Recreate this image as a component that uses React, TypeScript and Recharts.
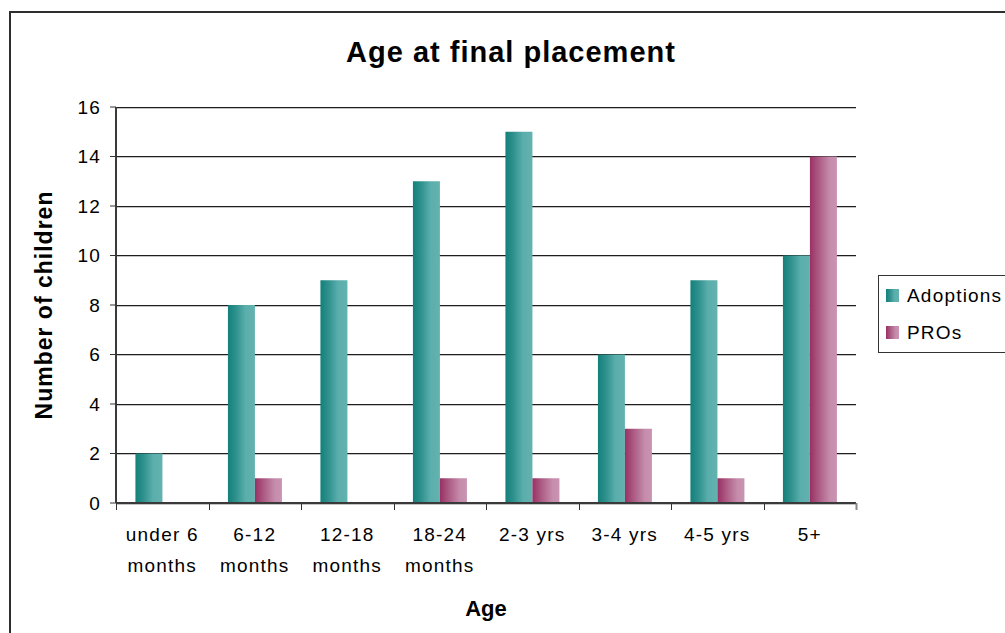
import { BarChart, Bar, XAxis, YAxis, CartesianGrid, Legend } from 'recharts';

// Age bands along the x axis (a "\n" splits a label over two lines)
const ageGroups = [
  'under 6\nmonths',
  '6-12\nmonths',
  '12-18\nmonths',
  '18-24\nmonths',
  '2-3 yrs',
  '3-4 yrs',
  '4-5 yrs',
  '5+',
];
const adoptions = [2, 8, 9, 13, 15, 6, 9, 10];
const pros = [0, 1, 0, 1, 1, 3, 1, 14];
const countTicks = [0, 2, 4, 6, 8, 10, 12, 14, 16];

const data = ageGroups.map((age, i) => ({ age, adoptions: adoptions[i], pros: pros[i] }));

const FONT = "'Liberation Sans', Arial, sans-serif";

// dark gridline with a faint shadow under it
// eslint-disable-next-line @typescript-eslint/no-explicit-any
const gridLine = (p: any) => {
  const y = Math.floor(p.y1) + 0.5;
  return (
    <g key={p.key}>
      <line x1={p.x1} x2={p.x2} y1={y + 1} y2={y + 1} stroke="#c4c4c4" />
      <line x1={p.x1} x2={p.x2} y1={y} y2={y} stroke="#1e1e1e" />
    </g>
  );
};

// category label plus Excel-style tick marks on the band edges
// eslint-disable-next-line @typescript-eslint/no-explicit-any
const AgeTick = (props: any) => {
  const { x, y, payload, index } = props;
  const half = payload?.offset ?? 0;
  const lines = String(payload.value).split('\n');
  const left = Math.round(x - half) + 0.5;
  const right = Math.round(x + half) + 0.5;
  return (
    <g>
      <line x1={left} x2={left} y1={y} y2={y + 7} stroke="#333" />
      {index === ageGroups.length - 1 && (
        <line x1={right} x2={right} y1={y} y2={y + 7} stroke="#888" strokeWidth={2} />
      )}
      <text
        x={x}
        y={y + 38}
        textAnchor="middle"
        fill="#000"
        style={{ fontFamily: FONT, fontSize: 19, letterSpacing: 1.2 }}
      >
        {lines.map((l, i) => (
          <tspan key={i} x={x} dy={i === 0 ? 0 : 31}>
            {l}
          </tspan>
        ))}
      </text>
    </g>
  );
};

// eslint-disable-next-line @typescript-eslint/no-explicit-any
const renderLegend = (props: any) => (
  <div
    style={{
      border: '1px solid #333',
      background: '#fff',
      padding: '1px 0 1px 7px',
      width: 150,
      boxSizing: 'border-box',
      fontFamily: FONT,
    }}
  >
    {/* eslint-disable-next-line @typescript-eslint/no-explicit-any */}
    {(props.payload || []).map((entry: any) => (
      <div key={entry.value} style={{ display: 'flex', alignItems: 'center', height: 37 }}>
        <svg width={13} height={13} style={{ marginRight: 8, display: 'block' }}>
          <rect width={13} height={13} fill={entry.color} />
        </svg>
        <span style={{ fontSize: 19, letterSpacing: 1.2, color: '#000' }}>{entry.value}</span>
      </div>
    ))}
  </div>
);

export default function App() {
  return (
    <div
      style={{
        position: 'fixed',
        left: 0,
        top: 0,
        width: 1005,
        height: 633,
        overflow: 'hidden',
        background: '#fff',
        fontFamily: FONT,
      }}
    >
      <div
        style={{
          position: 'absolute',
          left: 9,
          top: 11,
          width: 1100,
          height: 700,
          border: '2px solid #2e2e2e',
        }}
      />
      <div
        style={{
          position: 'absolute',
          left: 10,
          top: 38,
          width: 1002,
          textAlign: 'center',
          fontSize: 29,
          lineHeight: '29px',
          fontWeight: 'bold',
          letterSpacing: 1,
          color: '#000',
        }}
      >
        Age at final placement
      </div>
      <div style={{ position: 'absolute', left: 0, top: 0 }}>
        <BarChart
          width={1005}
          height={633}
          data={data}
          margin={{ top: 107, right: 149, bottom: 10, left: 16 }}
          barCategoryGap="21%"
          barGap={0}
        >
          <defs>
            <linearGradient id="adoptFill" x1="0" y1="0" x2="1" y2="0">
              <stop offset="0%" stopColor="#13807b" />
              <stop offset="30%" stopColor="#2f918d" />
              <stop offset="65%" stopColor="#5aaeab" />
              <stop offset="100%" stopColor="#63b2b0" />
            </linearGradient>
            <linearGradient id="proFill" x1="0" y1="0" x2="1" y2="0">
              <stop offset="0%" stopColor="#993064" />
              <stop offset="35%" stopColor="#ad5e86" />
              <stop offset="75%" stopColor="#c68dac" />
              <stop offset="100%" stopColor="#c993b1" />
            </linearGradient>
          </defs>
          <CartesianGrid horizontal={gridLine} vertical={false} />
          <XAxis
            dataKey="age"
            interval={0}
            height={120}
            tickLine={false}
            tickSize={0}
            tickMargin={0}
            tick={<AgeTick />}
            axisLine={{ stroke: '#3a3a3a', strokeWidth: 2 }}
            label={{
              value: 'Age',
              position: 'insideBottom',
              offset: 7,
              style: { fontFamily: FONT, fontSize: 22, fontWeight: 'bold', fill: '#000' },
            }}
          />
          {/* plot frame along the top edge */}
          <XAxis
            xAxisId="frameTop"
            orientation="top"
            type="number"
            domain={[0, 1]}
            allowDataOverflow
            height={0}
            tick={false}
            tickLine={false}
            axisLine={{ stroke: '#8a8a8a', strokeWidth: 2 }}
          />
          <YAxis
            domain={[0, 16]}
            ticks={countTicks}
            interval={0}
            width={100}
            tickSize={6}
            tickMargin={9}
            tickLine={{ stroke: '#333' }}
            axisLine={{ stroke: '#3a3a3a', strokeWidth: 2 }}
            tick={{ fontFamily: FONT, fontSize: 19, fill: '#000', letterSpacing: 1.2 }}
            label={{
              value: 'Number of children',
              angle: -90,
              position: 'insideLeft',
              offset: 28,
              style: {
                textAnchor: 'middle',
                fontFamily: FONT,
                fontSize: 23,
                fontWeight: 'bold',
                letterSpacing: 1,
                fill: '#000',
              },
            }}
          />
          {/* plot frame along the right edge */}
          <YAxis
            yAxisId="frameRight"
            orientation="right"
            type="number"
            domain={[0, 16]}
            allowDataOverflow
            width={0}
            tick={false}
            tickLine={false}
            axisLine={{ stroke: '#8a8a8a', strokeWidth: 2 }}
          />
          <Legend
            layout="vertical"
            align="center"
            verticalAlign="middle"
            content={renderLegend}
            wrapperStyle={{ left: 878, top: 275, width: 150 }}
          />
          <Bar dataKey="adoptions" name="Adoptions" fill="url(#adoptFill)" isAnimationActive={false} />
          <Bar dataKey="pros" name="PROs" fill="url(#proFill)" isAnimationActive={false} />
        </BarChart>
      </div>
    </div>
  );
}
